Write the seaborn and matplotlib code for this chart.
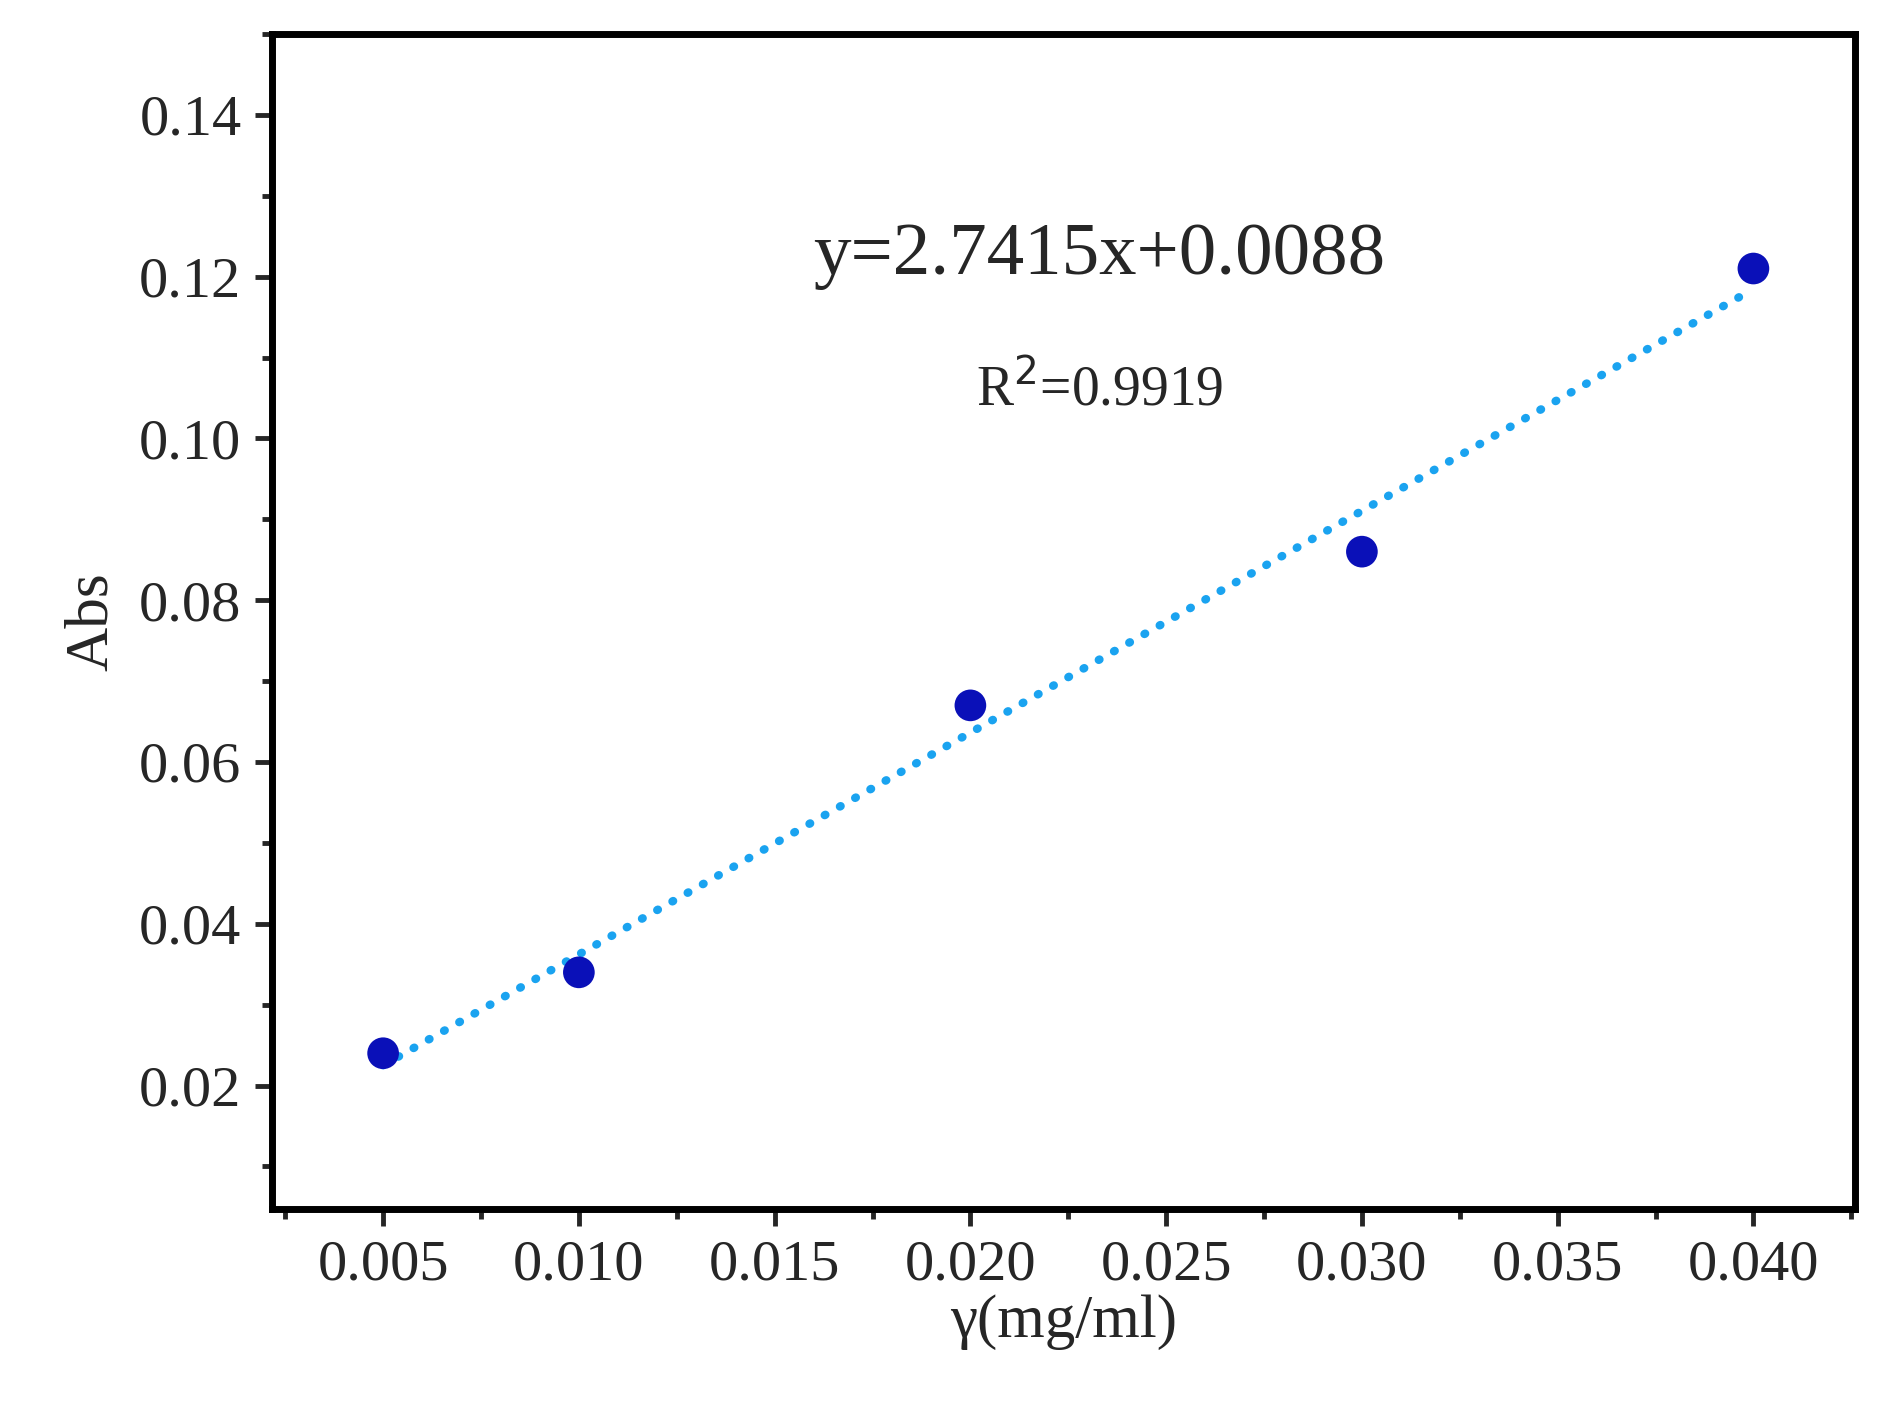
import matplotlib
matplotlib.use("Agg")
import matplotlib.pyplot as plt
import seaborn as sns
import numpy as np
from matplotlib.ticker import MultipleLocator

# measured points
conc = [0.005, 0.010, 0.020, 0.030, 0.040]
absorb = [0.024, 0.034, 0.067, 0.086, 0.121]
# linear fit as printed on the chart
slope = 2.7415
intercept = 0.0088
r2 = 0.9919

sns.set_style("white")
plt.rcParams['font.family'] = ['Liberation Serif', 'DejaVu Serif']

fig = plt.figure(figsize=(18.95, 14.13), dpi=100)
ax = fig.add_axes([0.1435, 0.1444, 0.8355, 0.8316])

fit_x = np.array([conc[0], conc[-1]])
fit_y = slope * fit_x + intercept
sns.lineplot(x=fit_x, y=fit_y, ax=ax, color='#1aa3f0', linewidth=6,
             linestyle=(0, (0.1, 2.0)), dash_capstyle='round', zorder=2)
sns.scatterplot(x=conc, y=absorb, ax=ax, color='#0a10b8', s=520,
                edgecolor='none', zorder=3)

ax.set_xlim(0.00216, 0.0426)
ax.set_ylim(0.00475, 0.15)
ax.xaxis.set_major_locator(MultipleLocator(0.005))
ax.xaxis.set_minor_locator(MultipleLocator(0.0025))
ax.yaxis.set_major_locator(MultipleLocator(0.02))
ax.yaxis.set_minor_locator(MultipleLocator(0.01))
ax.xaxis.set_major_formatter(matplotlib.ticker.FormatStrFormatter('%.3f'))
ax.yaxis.set_major_formatter(matplotlib.ticker.FormatStrFormatter('%.2f'))

for s in ax.spines.values():
    s.set_linewidth(5)
    s.set_color('black')
ax.tick_params(which='both', direction='out', width=3.5, labelsize=42,
               left=True, bottom=True, top=False, right=False)
ax.tick_params(which='major', length=12, pad=10)
ax.tick_params(which='minor', length=7)

ax.set_xlabel('γ(mg/ml)', fontsize=44, labelpad=2)
ax.set_ylabel('Abs', fontsize=44, labelpad=14)

ax.text(0.0233, 0.1225, f'y={slope}x+{intercept}', fontsize=54, ha='center', va='center')
ax.text(0.0233, 0.106, f'R$^{{2}}$={r2}', fontsize=40, ha='center', va='center')

fig.savefig('out.png', dpi=100)
